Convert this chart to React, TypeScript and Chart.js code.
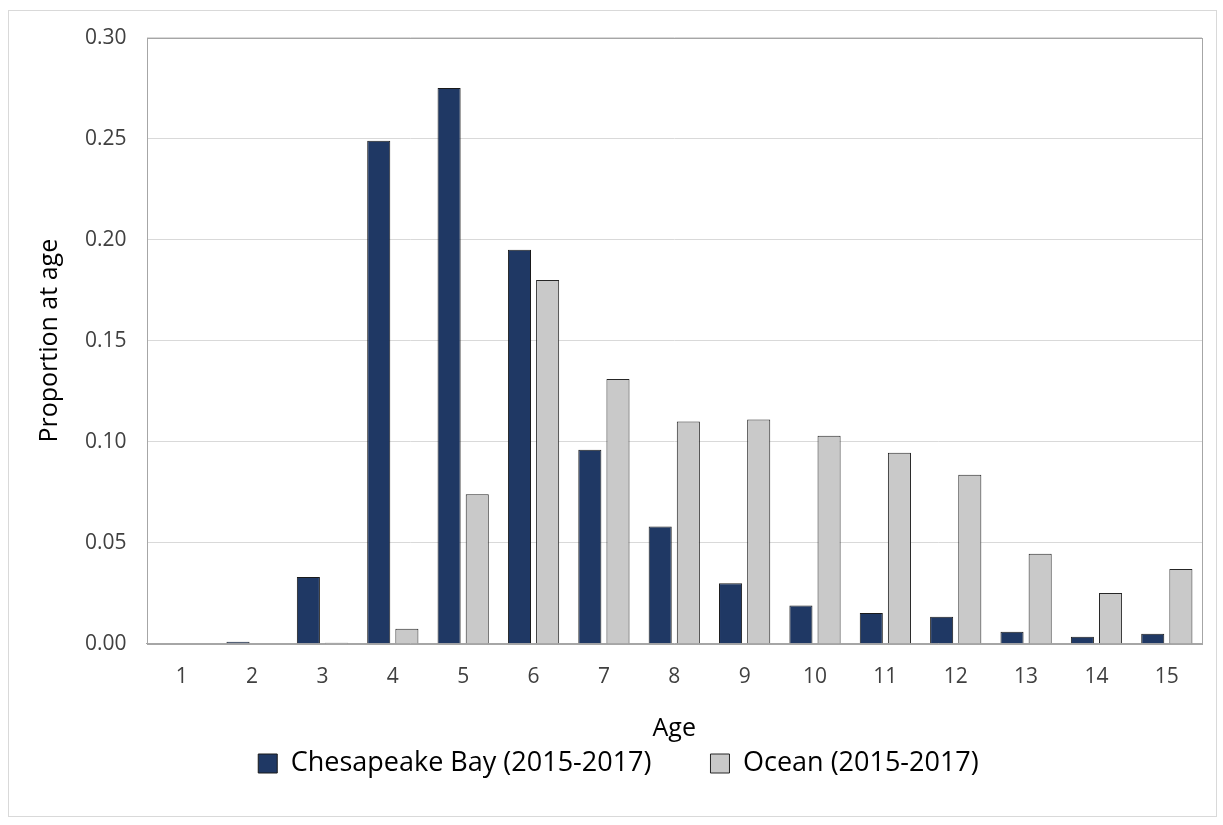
import React, { useEffect, useRef } from "react";
import { Chart, registerables } from "chart.js";

Chart.register(...registerables);

const ages = ["1", "2", "3", "4", "5", "6", "7", "8", "9", "10", "11", "12", "13", "14", "15"];
const chesapeakeBay = [0, 0.001, 0.033, 0.249, 0.275, 0.195, 0.096, 0.058, 0.03, 0.019, 0.0153, 0.0134, 0.006, 0.0035, 0.005];
const ocean = [0, 0, 0.0005, 0.0074, 0.074, 0.18, 0.131, 0.11, 0.111, 0.103, 0.0946, 0.0837, 0.0446, 0.0252, 0.037];

const FONT = "'Open Sans', 'Noto Sans', sans-serif";

const frame = {
  id: "frame",
  afterDraw(chart: any) {
    const { ctx, chartArea } = chart;
    ctx.save();
    ctx.strokeStyle = "#a6a6a6";
    ctx.lineWidth = 1;
    ctx.strokeRect(
      Math.round(chartArea.left) + 0.5,
      Math.round(chartArea.top) + 0.5,
      Math.round(chartArea.right - chartArea.left),
      Math.round(chartArea.bottom - chartArea.top)
    );
    ctx.restore();
  },
};

export default function App() {
  const ref = useRef<HTMLCanvasElement>(null);
  useEffect(() => {
    const chart = new Chart(ref.current!, {
      type: "bar",
      data: {
        labels: ages,
        datasets: [
          {
            label: "Chesapeake Bay (2015-2017)",
            data: chesapeakeBay,
            backgroundColor: "#1f3864",
            borderColor: "#1a1a1a",
            borderWidth: 1,
            categoryPercentage: 0.8,
            barPercentage: 0.82,
          },
          {
            label: "Ocean (2015-2017)",
            data: ocean,
            backgroundColor: "#c9c9c9",
            borderColor: "#262626",
            borderWidth: 1,
            categoryPercentage: 0.8,
            barPercentage: 0.82,
          },
        ],
      },
      options: {
        animation: false,
        responsive: false,
        maintainAspectRatio: false,
        layout: { padding: { left: 26, right: 14, top: 10, bottom: 29 } },
        plugins: {
          tooltip: { enabled: false },
          legend: {
            position: "bottom",
            labels: {
              color: "#000",
              font: { family: FONT, size: 27 },
              boxWidth: 19,
              boxHeight: 19,
              padding: 59,
            },
          },
        },
        scales: {
          x: {
            grid: { display: false },
            border: { color: "#a6a6a6" },
            ticks: { color: "#404040", font: { family: FONT, size: 21 }, padding: 13 },
            title: {
              display: true,
              text: "Age",
              color: "#000",
              font: { family: FONT, size: 25 },
              padding: { top: 11, bottom: -53 },
            },
          },
          y: {
            min: 0,
            max: 0.3,
            ticks: {
              stepSize: 0.05,
              color: "#404040",
              font: { family: FONT, size: 21 },
              padding: 20,
              callback: (v: any) => Number(v).toFixed(2),
            },
            grid: { color: "#d9d9d9", drawTicks: false },
            border: { display: false },
            title: {
              display: true,
              text: "Proportion at age",
              color: "#000",
              font: { family: FONT, size: 25 },
              padding: { top: 0, bottom: 0 },
            },
          },
        },
      },
      plugins: [frame],
    });
    return () => chart.destroy();
  }, []);
  return (
    <div
      style={{
        position: "fixed",
        left: 8,
        top: 10,
        width: 1207,
        height: 805,
        border: "1px solid #d9d9d9",
        background: "#fff",
      }}
    >
      <canvas
        ref={ref}
        width={1207}
        height={811}
        style={{ display: "block", marginTop: -6 }}
      />
    </div>
  );
}
